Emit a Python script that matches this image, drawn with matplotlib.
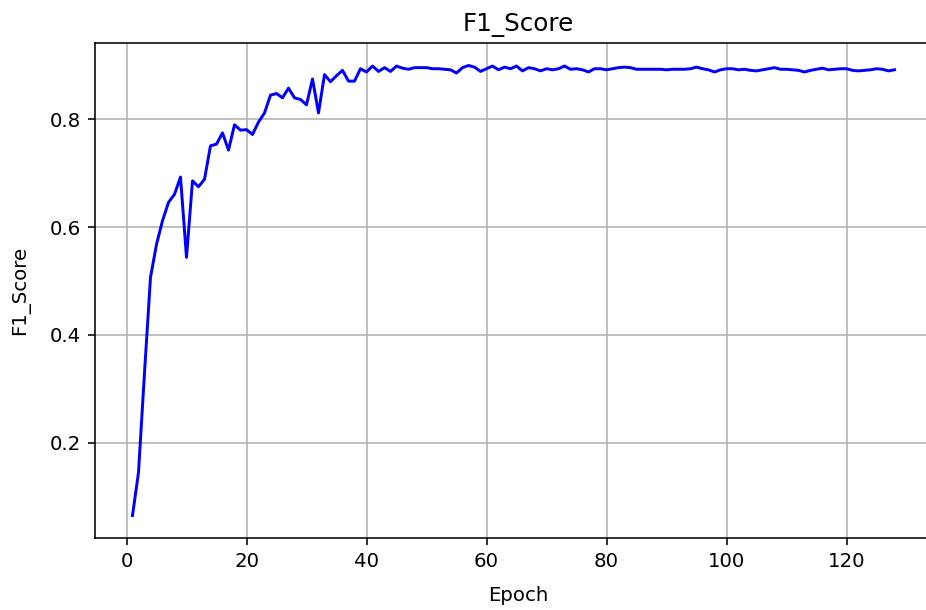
import numpy as np
import matplotlib
matplotlib.use("Agg")
import matplotlib.pyplot as plt

# F1 score per epoch
f1_early = [0.065, 0.145, 0.330, 0.507, 0.568, 0.612, 0.646, 0.661, 0.693, 0.544,
            0.686, 0.675, 0.689, 0.751, 0.754, 0.775, 0.743, 0.790, 0.780, 0.781,
            0.772, 0.795, 0.812, 0.845, 0.848, 0.840, 0.858, 0.840, 0.837, 0.827,
            0.875, 0.812, 0.883, 0.870, 0.881, 0.891, 0.871, 0.871, 0.894, 0.888]
f1_mid = [0.899, 0.889, 0.896, 0.889, 0.899, 0.895, 0.893, 0.896, 0.896, 0.896,
          0.894, 0.894, 0.893, 0.892, 0.886, 0.896, 0.900, 0.897, 0.889, 0.894,
          0.899, 0.892, 0.897, 0.894, 0.899, 0.890, 0.896, 0.894, 0.890, 0.894,
          0.892, 0.894, 0.899, 0.893, 0.894, 0.892, 0.888, 0.894, 0.894, 0.892,
          0.894, 0.896, 0.897, 0.896, 0.893, 0.893, 0.893, 0.893]
f1_late = [0.893, 0.892, 0.893, 0.893, 0.893, 0.894, 0.897, 0.894, 0.892, 0.888,
           0.892, 0.894, 0.894, 0.892, 0.893, 0.891, 0.890, 0.892, 0.894, 0.896,
           0.893, 0.893, 0.892, 0.891, 0.888, 0.891, 0.893, 0.895, 0.892, 0.893,
           0.894, 0.894, 0.891, 0.890, 0.891, 0.892, 0.894, 0.893, 0.890, 0.892]

f1 = f1_early + f1_mid + f1_late
epochs = np.arange(1, len(f1) + 1)

dpi = 142
fig = plt.figure(figsize=(926 / dpi, 610 / dpi), dpi=dpi)
# the reference is cropped so the right side of the frame is cut off
ax = fig.add_axes([95 / 926, 72 / 610, 846 / 926, 495 / 610])

ax.plot(epochs, f1, color='blue')
ax.set_xlim(-5.25, -5.25 + 846 / 6.0)
ax.set_title('F1_Score', fontsize=12.5)
ax.set_xlabel('Epoch', labelpad=7.5)
ax.set_ylabel('F1_Score', labelpad=10)
ax.grid(True)
ax.spines['right'].set_visible(False)

fig.savefig('out.png', dpi=dpi)
